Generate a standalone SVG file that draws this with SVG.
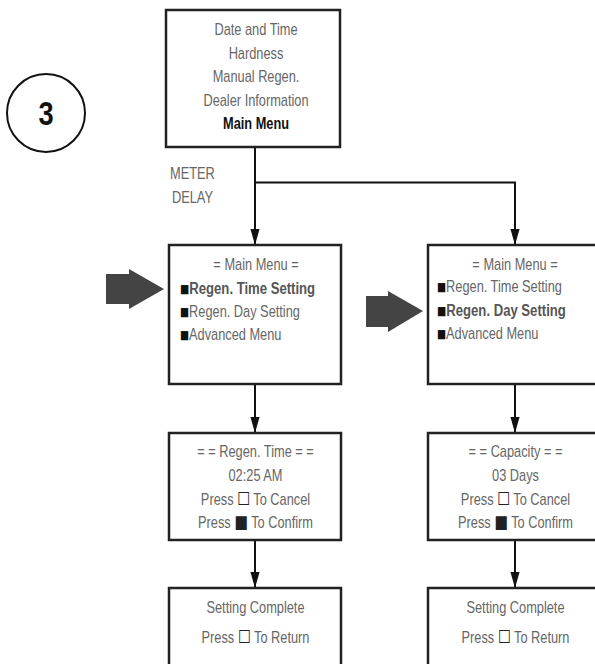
<svg xmlns="http://www.w3.org/2000/svg" width="595" height="664" viewBox="0 0 595 664">
<defs>
<style>
.box{fill:#fff;stroke:#222;stroke-width:2.5}
.t{font-family:"Liberation Sans",Arial,sans-serif;font-size:16px;fill:#666}
.c{text-anchor:middle}
.b{font-weight:bold;fill:#555}
.k{fill:#111}
.sym{font-family:"DejaVu Sans",sans-serif;font-size:18px;fill:#222}
.bul{font-family:"DejaVu Sans",sans-serif;font-size:12px;fill:#111}
.ln{fill:none;stroke:#111;stroke-width:2}
.big{fill:#444}
</style>
<marker id="ah" markerUnits="userSpaceOnUse" markerWidth="16" markerHeight="28" refX="28" refY="8" orient="auto" viewBox="0 0 28 16">
<path d="M0,0 L28,8 L0,16 Z" fill="#111"/>
</marker>
</defs>
<rect width="595" height="664" fill="#fff"/>

<g id="step3">
<circle cx="46" cy="113" r="39" fill="none" stroke="#111" stroke-width="2"/>
<text class="c" transform="translate(46,125) scale(0.8,1)" font-family="Liberation Sans,Arial,sans-serif" font-weight="bold" font-size="34" fill="#111">3</text>
</g>

<g id="connectors">
<path class="ln" d="M255,147 V245" marker-end="url(#ah)"/>
<path class="ln" d="M255,182.5 H515 V245" marker-end="url(#ah)"/>
<path class="ln" d="M255,384 V433" marker-end="url(#ah)"/>
<path class="ln" d="M515,384 V433" marker-end="url(#ah)"/>
<path class="ln" d="M255,540 V588" marker-end="url(#ah)"/>
<path class="ln" d="M515,540 V588" marker-end="url(#ah)"/>
</g>

<g id="meter-label">
<text class="t" transform="translate(170,179) scale(0.8,1)">METER</text>
<text class="t" transform="translate(172,203) scale(0.8,1)">DELAY</text>
</g>

<g id="pointer-left"><polygon class="big" points="106,274 129,274 129,269 164,289 129,309 129,304 106,304"/></g>
<g id="pointer-right"><polygon class="big" points="366,296 388,296 388,291 423,311 388,332 388,327 366,327"/></g>

<g id="menu-top">
<rect class="box" x="166" y="10" width="174" height="137"/>
<text class="t c" transform="translate(256,35) scale(0.8,1)">Date and Time</text>
<text class="t c" transform="translate(256,58.5) scale(0.8,1)">Hardness</text>
<text class="t c" transform="translate(256,82) scale(0.8,1)">Manual Regen.</text>
<text class="t c" transform="translate(256,105.5) scale(0.8,1)">Dealer Information</text>
<text class="t c b k" transform="translate(256,129) scale(0.8,1)">Main Menu</text>
</g>

<g id="main-menu-left">
<rect class="box" x="169" y="245" width="172" height="139"/>
<text class="t c" transform="translate(256,270) scale(0.8,1)">= Main Menu =</text>
<text class="t b" transform="translate(180,293.5) scale(0.82,1)"><tspan class="bul" dy="-1">■</tspan><tspan dy="1">Regen. Time Setting</tspan></text>
<text class="t" transform="translate(180,317) scale(0.8,1)"><tspan class="bul" dy="-1">■</tspan><tspan dy="1">Regen. Day Setting</tspan></text>
<text class="t" transform="translate(180,340) scale(0.8,1)"><tspan class="bul" dy="-1">■</tspan><tspan dy="1">Advanced Menu</tspan></text>
</g>

<g id="main-menu-right">
<rect class="box" x="428" y="245" width="174" height="139"/>
<text class="t c" transform="translate(515,270) scale(0.8,1)">= Main Menu =</text>
<text class="t" transform="translate(437,292) scale(0.8,1)"><tspan class="bul" dy="-1">■</tspan><tspan dy="1">Regen. Time Setting</tspan></text>
<text class="t b" transform="translate(437,315.5) scale(0.82,1)"><tspan class="bul" dy="-1">■</tspan><tspan dy="1">Regen. Day Setting</tspan></text>
<text class="t" transform="translate(437,339) scale(0.8,1)"><tspan class="bul" dy="-1">■</tspan><tspan dy="1">Advanced Menu</tspan></text>
</g>

<g id="regen-time">
<rect class="box" x="169" y="433" width="172" height="107"/>
<text class="t c" transform="translate(255.5,457) scale(0.8,1)">= = Regen. Time = =</text>
<text class="t c" transform="translate(255.5,481) scale(0.8,1)">02:25 AM</text>
<text class="t c" transform="translate(255.5,504.5) scale(0.8,1)">Press <tspan class="sym">☐</tspan> To Cancel</text>
<text class="t c" transform="translate(255.5,528) scale(0.8,1)">Press <tspan class="sym">■</tspan> To Confirm</text>
</g>

<g id="capacity">
<rect class="box" x="428" y="433" width="174" height="107"/>
<text class="t c" transform="translate(515.5,457) scale(0.8,1)">= = Capacity = =</text>
<text class="t c" transform="translate(515.5,481) scale(0.8,1)">03 Days</text>
<text class="t c" transform="translate(515.5,504.5) scale(0.8,1)">Press <tspan class="sym">☐</tspan> To Cancel</text>
<text class="t c" transform="translate(515.5,528) scale(0.8,1)">Press <tspan class="sym">■</tspan> To Confirm</text>
</g>

<g id="complete-left">
<rect class="box" x="169" y="588" width="172" height="90"/>
<text class="t c" transform="translate(255.5,613) scale(0.8,1)">Setting Complete</text>
<text class="t c" transform="translate(255.5,643) scale(0.8,1)">Press <tspan class="sym">☐</tspan> To Return</text>
</g>

<g id="complete-right">
<rect class="box" x="428" y="588" width="174" height="90"/>
<text class="t c" transform="translate(515.5,613) scale(0.8,1)">Setting Complete</text>
<text class="t c" transform="translate(515.5,643) scale(0.8,1)">Press <tspan class="sym">☐</tspan> To Return</text>
</g>
</svg>
